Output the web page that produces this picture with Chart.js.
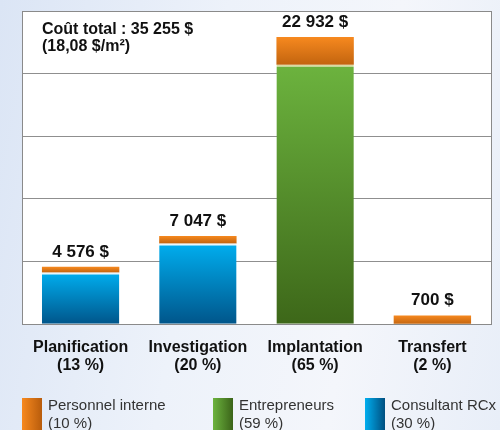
<!DOCTYPE html>
<html>
<head>
<meta charset="utf-8">
<script src="https://cdn.jsdelivr.net/npm/chart.js@4.4.0/dist/chart.umd.min.js"></script>
<style>
  body {
    margin: 0;
    width: 500px;
    height: 430px;
    overflow: hidden;
    position: relative;
    background: linear-gradient(100deg, #dbe5f5 0%, #edf2fa 40%, #f4f6fb 70%, #e8eef8 100%);
    font-family: "Liberation Sans", Arial, sans-serif;
  }
  #wrap { position: absolute; left: 0; top: 0; width: 500px; height: 430px; }
  .leg { position: absolute; top: 396px; font-size: 15px; color: #333; line-height: 18px; }
  .leg i { position: absolute; left: 0; top: 2px; width: 20px; height: 34px; }
  .leg span { display: block; margin-left: 26px; white-space: nowrap; }
</style>
</head>
<body>
<div id="wrap"><canvas id="barChart" width="500" height="430"></canvas></div>
<div class="leg" style="left:22px"><i style="background:linear-gradient(90deg,#f7891f,#b85c0c)"></i><span>Personnel interne</span><span>(10 %)</span></div>
<div class="leg" style="left:213px"><i style="background:linear-gradient(90deg,#6cb33e,#3b6419)"></i><span>Entrepreneurs</span><span>(59 %)</span></div>
<div class="leg" style="left:365px"><i style="background:linear-gradient(90deg,#00aeef,#004f80)"></i><span>Consultant RCx</span><span>(30 %)</span></div>
<script>
const categories = [["Planification", "(13 %)"], ["Investigation", "(20 %)"], ["Implantation", "(65 %)"], ["Transfert", "(2 %)"]];
const totalLabels = ["4 576 $", "7 047 $", "22 932 $", "700 $"];
const consultantValues = [4126, 6447, 0, 0];
const contractorValues = [0, 0, 20700, 0];
const internalValues = [450, 600, 2232, 700];
const titleLines = ["Coût total : 35 255 $", "(18,08 $/m²)"];

// vertical gradient for each stacked segment, computed from the y scale
function barGradient(top, bottom) {
  return (c) => {
    const chart = c.chart;
    if (!chart.chartArea || c.type !== "data") return top;
    const i = c.dataIndex;
    let start = 0;
    for (let d = 0; d < c.datasetIndex; d++) start += chart.data.datasets[d].data[i];
    const v = chart.data.datasets[c.datasetIndex].data[i];
    const y0 = chart.scales.y.getPixelForValue(start + v);
    const y1 = chart.scales.y.getPixelForValue(start);
    if (y1 - y0 < 1) return top;
    const g = chart.ctx.createLinearGradient(0, y0, 0, y1);
    g.addColorStop(0, top);
    g.addColorStop(1, bottom);
    return g;
  };
}

const extras = {
  id: "extras",
  beforeDraw(chart) {
    const a = chart.chartArea, ctx = chart.ctx;
    ctx.save();
    ctx.fillStyle = "#ffffff";
    ctx.fillRect(a.left, a.top, a.right - a.left, a.bottom - a.top);
    ctx.restore();
  },
  afterDatasetsDraw(chart) {
    const a = chart.chartArea, ctx = chart.ctx;
    const x = chart.scales.x, y = chart.scales.y;
    ctx.save();
    ctx.fillStyle = "#111";
    ctx.textAlign = "center";
    ctx.textBaseline = "middle";
    ctx.font = 'bold 17px "Liberation Sans", Arial, sans-serif';
    totalLabels.forEach((t, i) => {
      const total = consultantValues[i] + contractorValues[i] + internalValues[i];
      ctx.fillText(t, x.getPixelForValue(i), y.getPixelForValue(total) - 15);
    });
    ctx.textAlign = "left";
    ctx.font = 'bold 16px "Liberation Sans", Arial, sans-serif';
    ctx.fillText(titleLines[0], a.left + 20, a.top + 19);
    ctx.fillText(titleLines[1], a.left + 20, a.top + 36);
    ctx.strokeStyle = "#8a8a8a";
    ctx.lineWidth = 1;
    ctx.strokeRect(Math.round(a.left) + 0.5, Math.round(a.top) + 0.5,
      Math.round(a.right - a.left), Math.round(a.bottom - a.top));
    ctx.restore();
  }
};

const ctx = document.getElementById("barChart").getContext("2d");
const chart = new Chart(ctx, {
  type: "bar",
  data: {
    labels: categories,
    datasets: [{
      label: "Consultant RCx",
      data: consultantValues,
      backgroundColor: barGradient("#00aeef", "#00558a"),
      borderColor: "#e8f6fc",
      borderWidth: { top: 2, left: 0, right: 0, bottom: 0 },
      borderSkipped: false
    }, {
      label: "Entrepreneurs",
      data: contractorValues,
      backgroundColor: barGradient("#6cb33e", "#3d6719"),
      borderColor: "#d8dca0",
      borderWidth: { top: 2, left: 0, right: 0, bottom: 0 },
      borderSkipped: false
    }, {
      label: "Personnel interne",
      data: internalValues,
      backgroundColor: barGradient("#f7891f", "#c2640f")
    }]
  },
  options: {
    responsive: false,
    animation: false,
    layout: { padding: { left: 22, right: 9, top: 11, bottom: 41 } },
    plugins: { legend: { display: false }, tooltip: { enabled: false } },
    datasets: { bar: { categoryPercentage: 1, barPercentage: 0.66 } },
    scales: {
      x: {
        stacked: true,
        grid: { display: false, drawTicks: false },
        border: { display: true, color: "#8a8a8a" },
        ticks: {
          padding: 14,
          color: "#111",
          font: { family: '"Liberation Sans", Arial, sans-serif', size: 16, weight: "bold", lineHeight: 1.15 }
        }
      },
      y: {
        stacked: true,
        min: 0,
        max: 25000,
        ticks: { display: false, stepSize: 5000 },
        grid: { color: "#8f8f8f", drawTicks: false },
        border: { display: true, color: "#8a8a8a" }
      }
    }
  },
  plugins: [extras]
});
</script>
</body>
</html>
